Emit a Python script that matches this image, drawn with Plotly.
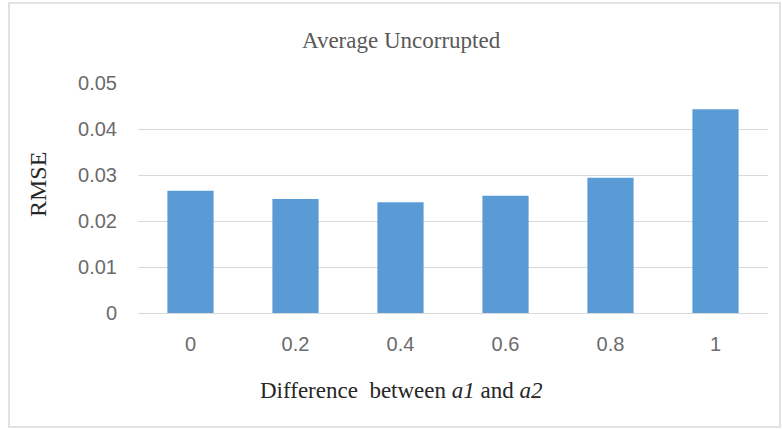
import plotly.graph_objects as go

categories = ["0", "0.2", "0.4", "0.6", "0.8", "1"]
rmse = [0.0266, 0.0248, 0.0241, 0.0255, 0.0294, 0.0443]
y_ticks = [0, 0.01, 0.02, 0.03, 0.04, 0.05]
y_tick_text = ["0", "0.01", "0.02", "0.03", "0.04", "0.05"]

W, H = 782, 429
ml, mr, mt, mb = 138, 14, 83, 116
pw, ph = W - ml - mr, H - mt - mb

def px_x(x):
    return (x - ml) / pw

def px_y(y):
    return (H - mb - y) / ph

fig = go.Figure()
fig.add_trace(go.Bar(
    x=categories, y=rmse,
    marker=dict(color="#5B9BD5", line=dict(width=0)),
    width=0.44,
))

tick_font = dict(family="Liberation Sans, Arial", size=20, color="#6b6b6b")

fig.update_layout(
    width=W, height=H,
    margin=dict(l=ml, r=mr, t=mt, b=mb),
    paper_bgcolor="white", plot_bgcolor="white",
    showlegend=False,
    xaxis=dict(
        type="category",
        showgrid=False, zeroline=False,
        showline=True, linecolor="#d9d9d9", linewidth=1,
        ticks="", tickfont=tick_font,
        ticklabelstandoff=13,
    ),
    yaxis=dict(
        range=[0, 0.05],
        tickvals=y_ticks, ticktext=y_tick_text,
        showgrid=True, gridcolor="#d9d9d9", gridwidth=1,
        zeroline=False, showline=False, ticks="",
        tickfont=tick_font,
        ticklabelstandoff=20,
    ),
    annotations=[
        dict(text="Average Uncorrupted", x=px_x(401), y=px_y(41), xref="paper", yref="paper",
             showarrow=False, xanchor="center", yanchor="middle",
             font=dict(family="Liberation Serif, Times New Roman", size=23, color="#595959")),
        dict(text="Difference&nbsp; between <i>a1</i> and <i>a2</i>", x=px_x(401), y=px_y(390),
             xref="paper", yref="paper", showarrow=False, xanchor="center", yanchor="middle",
             font=dict(family="Liberation Serif, Times New Roman", size=23, color="#262626")),
        dict(text="RMSE", x=px_x(38), y=px_y(185), xref="paper", yref="paper",
             showarrow=False, xanchor="center", yanchor="middle", textangle=-90,
             font=dict(family="Liberation Serif, Times New Roman", size=24, color="#262626")),
    ],
    shapes=[
        dict(type="rect", xref="paper", yref="paper",
             x0=px_x(9), x1=px_x(780), y0=px_y(427), y1=px_y(3),
             line=dict(color="#d9d9d9", width=1.5), fillcolor="rgba(0,0,0,0)", layer="below"),
    ],
)

fig.write_html("out.html")
